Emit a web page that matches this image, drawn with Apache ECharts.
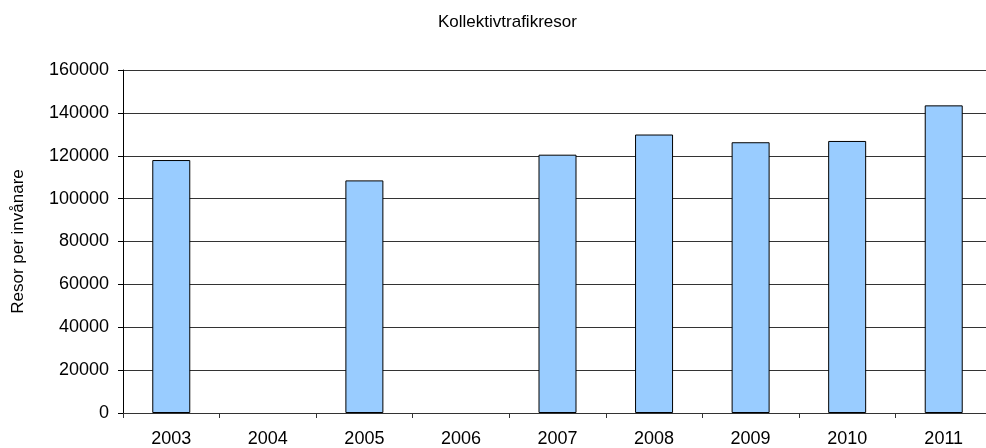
<!DOCTYPE html>
<html>
<head>
<meta charset="utf-8">
<script src="https://cdn.jsdelivr.net/npm/echarts@6/dist/echarts.min.js"></script>
<style>
  html, body { margin: 0; padding: 0; background: #fff; }
  #chart { width: 986px; height: 448px; }
</style>
</head>
<body>
<div id="chart"></div>
<script>
const years = ['2003', '2004', '2005', '2006', '2007', '2008', '2009', '2010', '2011']
// 2004 och 2006 saknas
const resor = [118000, null, 108500, null, 120500, 129900, 126300, 126900, 143500]
const yTicks = [0, 20000, 40000, 60000, 80000, 100000, 120000, 140000, 160000]

const font = 'Liberation Sans, Arial, sans-serif'

const chart = echarts.init(document.getElementById('chart'))
chart.setOption({
    animation: false,
    title: {
        text: 'Kollektivtrafikresor',
        left: 433,
        top: 9,
        textStyle: {fontFamily: font, fontSize: 17, fontWeight: 'normal', color: '#000'}
    },
    // plottytan går lite utanför bildens högerkant, som i originalet
    grid: {left: 123, right: -6, top: 70, bottom: 35, outerBoundsMode: 'none'},
    xAxis: {
        type: 'category',
        data: years,
        axisLine: {lineStyle: {color: '#333', width: 1}},
        axisTick: {show: true, length: 5, lineStyle: {color: '#333'}},
        axisLabel: {fontFamily: font, fontSize: 18, color: '#000', margin: 17}
    },
    yAxis: {
        type: 'value',
        min: yTicks[0],
        max: yTicks[yTicks.length - 1],
        interval: yTicks[1] - yTicks[0],
        name: 'Resor per invånare',
        nameLocation: 'middle',
        nameGap: 96,
        nameTextStyle: {fontFamily: font, fontSize: 17, color: '#000'},
        axisLine: {show: true, lineStyle: {color: '#000', width: 1}},
        axisTick: {show: true, length: 5, lineStyle: {color: '#000'}},
        axisLabel: {
            fontFamily: font, fontSize: 18, color: '#000', margin: 14,
            formatter: (v) => String(v)
        },
        splitLine: {lineStyle: {color: '#333', width: 1}}
    },
    series: [
        {
            type: 'bar',
            data: resor,
            barWidth: 38,
            itemStyle: {color: '#99CCFF', borderColor: '#000', borderWidth: 1}
        }
    ]
})
</script>
</body>
</html>
